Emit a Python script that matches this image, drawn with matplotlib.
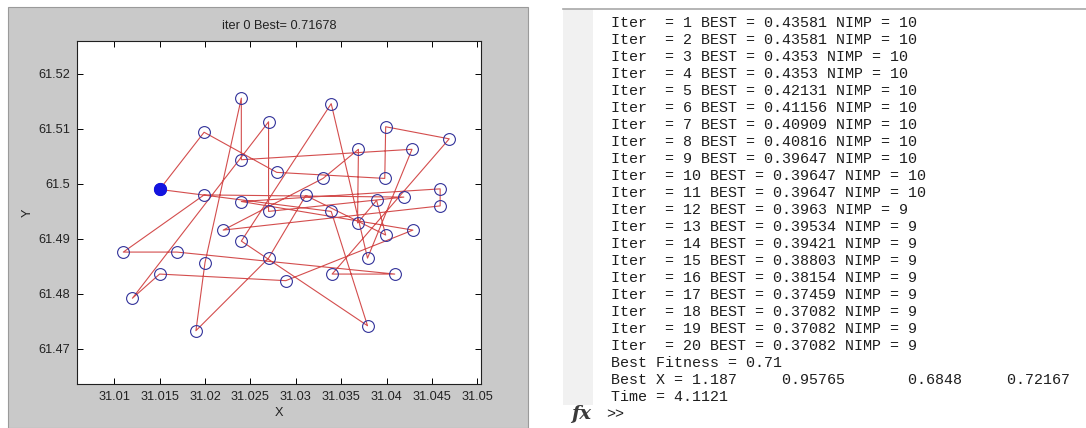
import matplotlib.pyplot as plt
from matplotlib.patches import Rectangle
from matplotlib.lines import Line2D

# route through the cities, in visiting order (first one = start city)
route_x = [31.0150, 31.0199, 31.0279, 31.0398, 31.0399, 31.0469, 31.0340, 31.0409,
           31.0169, 31.0110, 31.0199, 31.0419, 31.0270, 31.0270, 31.0120, 31.0150,
           31.0289, 31.0429, 31.0240, 31.0459, 31.0459, 31.0220, 31.0330, 31.0369,
           31.0368, 31.0389, 31.0399, 31.0311, 31.0270, 31.0190, 31.0200, 31.0240,
           31.0240, 31.0428, 31.0379, 31.0339, 31.0240, 31.0379, 31.0339]
route_y = [61.4990, 61.5094, 61.5021, 61.5010, 61.5104, 61.5082, 61.4836, 61.4836,
           61.4876, 61.4876, 61.4980, 61.4976, 61.4950, 61.5113, 61.4792, 61.4836,
           61.4824, 61.4916, 61.4968, 61.4991, 61.4960, 61.4916, 61.5010, 61.5063,
           61.4929, 61.4970, 61.4907, 61.4979, 61.4865, 61.4733, 61.4857, 61.5156,
           61.5044, 61.5063, 61.4865, 61.5146, 61.4896, 61.4742, 61.4950]

plot_title = "iter 0 Best= 0.71678"
x_ticks = [31.01, 31.015, 31.02, 31.025, 31.03, 31.035, 31.04, 31.045, 31.05]
y_ticks = [61.47, 61.48, 61.49, 61.50, 61.51, 61.52]

# console output shown on the right
iters = list(range(1, 21))
best = ["0.43581", "0.43581", "0.4353", "0.4353", "0.42131", "0.41156", "0.40909",
        "0.40816", "0.39647", "0.39647", "0.39647", "0.3963", "0.39534", "0.39421",
        "0.38803", "0.38154", "0.37459", "0.37082", "0.37082", "0.37082"]
nimp = [10] * 11 + [9] * 9
best_fitness = "0.71"
best_x = ["1.187", "0.95765", "0.6848", "0.72167"]
run_time = "4.1121"

W, H = 1086, 428
fig = plt.figure(figsize=(W / 100, H / 100), dpi=100)
fig.patch.set_facecolor("white")

def fx(px):
    return px / W

def fy(py):
    return 1 - py / H

# matlab figure window (grey)
fig.patches.append(Rectangle((fx(8), 0), fx(520), fy(7), transform=fig.transFigure,
                             facecolor="#c9c9c9", edgecolor="#9a9a9a", lw=0.8, zorder=0))

ax = fig.add_axes([fx(77), fy(384), fx(404), (384 - 41) / H])
ax.set_zorder(2)
ax.set_facecolor("white")
xs = route_x + route_x[:1]
ys = route_y + route_y[:1]
ax.plot(xs, ys, "-", color="#cc2e2e", lw=0.8, alpha=0.85, zorder=2)
ax.plot(route_x, route_y, "o", mfc="none", mec="#32329a", ms=8.5, mew=0.8, zorder=3)
ax.plot(route_x[0], route_y[0], "o", color="#1414e0", ms=8.5, zorder=4)

ax.set_xlim(31.0059, 31.0504)
ax.set_ylim(61.4636, 61.526)
ax.set_xticks(x_ticks)
ax.set_xticklabels(["31.01", "31.015", "31.02", "31.025", "31.03", "31.035",
                    "31.04", "31.045", "31.05"])
ax.set_yticks(y_ticks)
ax.set_yticklabels(["61.47", "61.48", "61.49", "61.5", "61.51", "61.52"])
ax.tick_params(direction="in", length=4, width=0.7, top=True, right=True,
               labelsize=9.2, pad=5, colors="black")
for lbl in ax.get_xticklabels() + ax.get_yticklabels():
    lbl.set_family("Liberation Sans")
    lbl.set_color("#222222")
for s in ax.spines.values():
    s.set_linewidth(0.8)
    s.set_color("#202020")
ax.set_xlabel("X", fontsize=9.2, family="Liberation Sans", labelpad=3, color="#222222")
ax.set_ylabel("Y", fontsize=9.2, family="Liberation Sans", labelpad=3, color="#222222")
fig.text(fx(279), fy(26), plot_title, ha="center", va="center", fontsize=9.2,
         family="Liberation Sans", color="#222222")

# command window
fig.patches.append(Rectangle((fx(563), fy(405)), fx(30), (405 - 9) / H,
                             transform=fig.transFigure, facecolor="#f1f1f1",
                             edgecolor="none", zorder=0))
fig.lines.append(Line2D([fx(563), 1], [fy(8.5), fy(8.5)], transform=fig.transFigure,
                        color="#a8a8a8", lw=1.2))

lines = []
for it, b, n in zip(iters, best, nimp):
    lines.append(f"Iter  = {it} BEST = {b} NIMP = {n}")
lines.append(f"Best Fitness = {best_fitness}")
lines.append(f"Best X = {best_x[0]}     {best_x[1]}       {best_x[2]}     {best_x[3]}")
lines.append(f"Time = {run_time}")

for k, txt in enumerate(lines):
    fig.text(fx(611), fy(22.7 + 17 * k), txt, ha="left", va="center",
             fontsize=10.8, family="Liberation Mono", color="#1e1e1e")
fig.text(fx(606), fy(22.7 + 17 * len(lines)), ">>", ha="left", va="center",
         fontsize=10.8, family="Liberation Mono", color="#1e1e1e")
fig.text(fx(571), fy(22.7 + 17 * len(lines)), "fx", ha="left", va="center",
         fontsize=14, family="DejaVu Serif", style="italic", weight="bold",
         color="#3a3a3a")

fig.savefig("out.png", dpi=100)
